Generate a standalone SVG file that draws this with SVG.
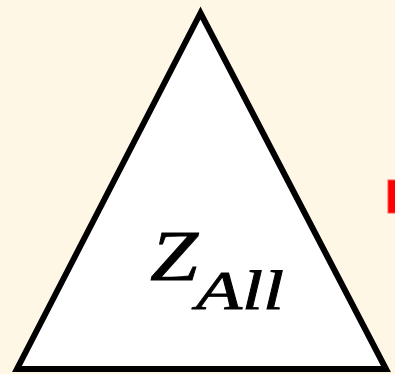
<svg xmlns="http://www.w3.org/2000/svg" width="395" height="374" viewBox="0 0 395 374">
<style>
.math{font-family:"Liberation Serif","DejaVu Serif",serif;font-style:italic;fill:#000;stroke:#000;stroke-width:0.8}
</style>
<rect width="395" height="374" fill="#fff7e6"/>
<g id="triangle">
<polygon points="200.5,13 17,369 386,369" fill="#fff" stroke="#000" stroke-width="6" stroke-linejoin="miter"/>
<text class="math" x="150" y="280" font-size="71" textLength="48" lengthAdjust="spacingAndGlyphs">Z</text>
<text class="math" x="196" y="309" font-size="54" textLength="88" lengthAdjust="spacingAndGlyphs">All</text>
</g>
<g id="marker">
<rect x="388" y="180" width="8" height="33" fill="#ff0000" stroke="#ff5050" stroke-width="1"/>
</g>
</svg>
